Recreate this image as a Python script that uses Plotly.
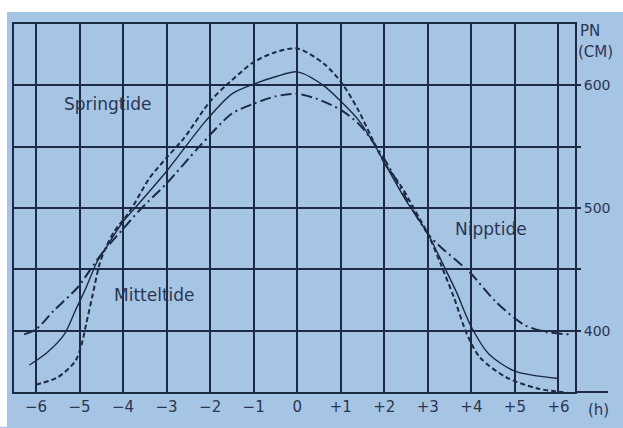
import plotly.graph_objects as go

# ---- data ----
spring_h = [-6.0, -5.5, -5.1, -4.95, -4.85, -4.7, -4.55, -4.43, -4.2, -3.85, -3.4, -3.0, -2.6,
            -2.0, -1.6, -1.0, -0.5, 0.0, 0.6, 1.0, 1.4, 1.7, 2.0, 2.4, 2.8, 3.0, 3.3, 3.6, 3.9,
            4.2, 4.8, 5.5, 6.3]
spring_cm = [356, 362, 375, 389, 405, 429, 453, 465, 481, 497, 524, 541, 557,
             587, 601, 619, 627, 630, 618, 603, 580, 558, 537, 517, 492, 479, 454, 427, 397,
             378, 362, 353, 349]

mittel_h = [-6.15, -5.75, -5.35, -5.1, -4.85, -4.6, -4.35, -4.0, -3.85, -3.0, -2.1, -1.5, -1.0,
            -0.5, 0.0, 0.6, 1.0, 1.4, 1.75, 2.05, 2.5, 3.0, 3.35, 3.65, 4.0, 4.4, 5.0, 6.0]
mittel_cm = [372, 382, 397, 416, 435, 456, 470, 489, 495, 530, 571, 593, 601,
             607, 611, 600, 587, 572, 553, 534, 506, 479, 454, 432, 403, 381, 367, 361]

nipp_h = [-6.27, -6.0, -5.6, -5.05, -4.67, -4.44, -4.0, -3.6, -3.0, -2.25, -1.5, -1.0, -0.5,
          0.0, 0.45, 1.0, 1.4, 1.7, 2.05, 2.5, 3.0, 3.3, 3.95, 4.55, 5.2, 5.7, 6.25]
nipp_cm = [397, 401, 416, 435, 454, 465, 483, 499, 520, 550, 577, 585, 591,
           593, 589, 580, 569, 556, 537, 508, 479, 468, 448, 424, 405, 399, 397]

x_ticks = [-6, -5, -4, -3, -2, -1, 0, 1, 2, 3, 4, 5, 6]
x_tick_labels = ["\u22126", "\u22125", "\u22124", "\u22123", "\u22122", "\u22121", "0",
                 "+1", "+2", "+3", "+4", "+5", "+6"]
y_ticks = [400, 450, 500, 550, 600]
y_tick_labels = ["400", "", "500", "", "600"]

# ---- style ----
BG = "#a6c4e4"
INK = "#1c2a44"
TXT = "#2a3652"
FONT = "DejaVu Sans"

W, H = 623, 428
L, R, T, B = 14, 48, 24, 33
PW, PH = W - L - R, H - T - B


def px_x(px):
    return (px - L) / PW


def px_y(py):
    return (H - B - py) / PH


fig = go.Figure()
fig.add_trace(go.Scatter(x=spring_h, y=spring_cm, mode="lines", name="Springtide",
                         line=dict(color=INK, width=2, dash="5px,3px", shape="spline", smoothing=0.8)))
fig.add_trace(go.Scatter(x=mittel_h, y=mittel_cm, mode="lines", name="Mitteltide",
                         line=dict(color=INK, width=1.4, shape="spline", smoothing=0.8)))
fig.add_trace(go.Scatter(x=nipp_h, y=nipp_cm, mode="lines", name="Nipptide",
                         line=dict(color=INK, width=2, dash="11px,4px,2px,4px", shape="spline", smoothing=0.8)))

fig.update_layout(
    width=W, height=H,
    margin=dict(l=L, r=R, t=T, b=B),
    paper_bgcolor=BG, plot_bgcolor=BG,
    showlegend=False,
    font=dict(family=FONT, color=TXT),
)
fig.update_xaxes(
    range=[-6.505, 6.38], tickvals=x_ticks, ticktext=x_tick_labels,
    showgrid=True, gridcolor=INK, gridwidth=1.5,
    showline=True, linecolor=INK, linewidth=2, mirror=True, zeroline=False,
    ticks="", tickfont=dict(size=15, color=TXT, family=FONT),
)
fig.update_yaxes(
    range=[350, 650], side="right", tickvals=y_ticks, ticktext=y_tick_labels,
    showgrid=True, gridcolor=INK, gridwidth=1.5,
    showline=True, linecolor=INK, linewidth=2, mirror=True, zeroline=False,
    ticks="outside", ticklen=4, tickwidth=1.5, tickcolor=INK,
    tickfont=dict(size=14, color=TXT, family=FONT),
)

# white page margins at top and left
fig.add_shape(type="rect", xref="paper", yref="paper", layer="above",
              x0=px_x(-2), x1=px_x(W + 2), y0=px_y(12), y1=px_y(-2),
              fillcolor="white", line=dict(width=0))
fig.add_shape(type="rect", xref="paper", yref="paper", layer="above",
              x0=px_x(-2), x1=px_x(7), y0=px_y(H + 2), y1=px_y(-2),
              fillcolor="white", line=dict(width=0))
# baseline extension to the right
fig.add_shape(type="line", xref="paper", yref="paper", layer="above",
              x0=1, x1=px_x(608), y0=0, y1=0, line=dict(color=INK, width=2))

ann = dict(showarrow=False, font=dict(family=FONT, size=17, color=TXT))
fig.add_annotation(x=-4.35, y=585, text="Springtide", xanchor="center", yanchor="middle", **ann)
fig.add_annotation(x=-3.28, y=429, text="Mitteltide", xanchor="center", yanchor="middle", **ann)
fig.add_annotation(x=4.46, y=482.5, text="Nipptide", xanchor="center", yanchor="middle", **ann)
small = dict(showarrow=False, font=dict(family=FONT, size=15, color=TXT))
fig.add_annotation(xref="paper", yref="paper", x=px_x(578), y=px_y(31), text="PN",
                   xanchor="left", yanchor="middle", **small)
fig.add_annotation(xref="paper", yref="paper", x=px_x(576), y=px_y(52), text="(CM)",
                   xanchor="left", yanchor="middle", **small)
fig.add_annotation(xref="paper", yref="paper", x=px_x(598.5), y=px_y(413), text="(h)",
                   xanchor="center", yanchor="middle",
                   **dict(showarrow=False, font=dict(family=FONT, size=15, color=TXT)))

fig.write_html(
    "out.html",
    config={"displayModeBar": False},
    post_script=(
        "document.body.style.margin='0';"
        "document.body.style.background='" + BG + "';"
        "document.documentElement.style.background='" + BG + "';"
        "document.body.style.overflow='hidden';"
    ),
)
